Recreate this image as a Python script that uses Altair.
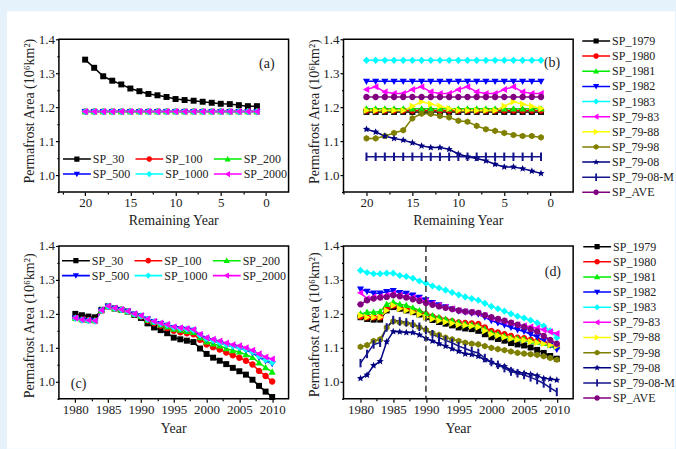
import math
import altair as alt
import pandas as pd

FONT = "Liberation Serif"
TXT = "#222222"
W, H = 230, 153

# ---------------- data ----------------
rem_x = [20, 19, 18, 17, 16, 15, 14, 13, 12, 11, 10, 9, 8, 7, 6, 5, 4, 3, 2, 1]
years = [1980, 1981, 1982, 1983, 1984, 1985, 1986, 1987, 1988, 1989, 1990,
         1991, 1992, 1993, 1994, 1995, 1996, 1997, 1998, 1999, 2000,
         2001, 2002, 2003, 2004, 2005, 2006, 2007, 2008, 2009, 2010]

sp_names = ["SP_30", "SP_100", "SP_200", "SP_500", "SP_1000", "SP_2000"]
sp_colors = ["#000000", "#ff0000", "#00ee00", "#0000ff", "#00ffff", "#ff00ff"]
sp_shapes = ["square", "circle", "tri_up", "tri_down", "diamond", "tri_left"]

yr_names = ["SP_1979", "SP_1980", "SP_1981", "SP_1982", "SP_1983", "SP_79-83",
            "SP_79-88", "SP_79-98", "SP_79-08", "SP_79-08-M", "SP_AVE"]
yr_colors = ["#000000", "#ff0000", "#00ee00", "#0000ff", "#00ffff", "#ff00ff",
             "#ffff00", "#808000", "#000080", "#14148c", "#800080"]
yr_shapes = ["square", "circle", "tri_up", "tri_down", "diamond", "tri_left",
             "tri_right", "hexagon", "star", "vbar", "circle"]

# panel (a)
a_sp30 = [1.340, 1.316, 1.291, 1.278, 1.267, 1.255, 1.247, 1.239, 1.235, 1.230,
          1.224, 1.221, 1.219, 1.216, 1.213, 1.210, 1.209, 1.206, 1.203, 1.203]
a_sp100 = [1.187, 1.187, 1.187, 1.187, 1.187, 1.187, 1.187, 1.187, 1.187, 1.187,
           1.187, 1.187, 1.187, 1.187, 1.187, 1.187, 1.187, 1.187, 1.187, 1.187]
a_sp200 = [1.187, 1.187, 1.187, 1.187, 1.187, 1.187, 1.187, 1.187, 1.187, 1.187,
           1.187, 1.187, 1.187, 1.187, 1.187, 1.187, 1.187, 1.187, 1.187, 1.187]
a_sp500 = [1.187, 1.187, 1.187, 1.187, 1.187, 1.187, 1.187, 1.187, 1.187, 1.187,
           1.187, 1.187, 1.187, 1.187, 1.187, 1.187, 1.187, 1.187, 1.187, 1.187]
a_sp1000 = [1.187, 1.187, 1.187, 1.187, 1.187, 1.187, 1.187, 1.187, 1.187, 1.187,
            1.187, 1.187, 1.187, 1.187, 1.187, 1.187, 1.187, 1.187, 1.187, 1.187]
a_sp2000 = [1.187, 1.187, 1.187, 1.187, 1.187, 1.187, 1.187, 1.187, 1.187, 1.187,
            1.187, 1.187, 1.187, 1.187, 1.187, 1.187, 1.187, 1.187, 1.187, 1.187]

# panel (b)
b_1979 = [1.186, 1.186, 1.186, 1.186, 1.186, 1.186, 1.186, 1.186, 1.186, 1.186,
          1.186, 1.186, 1.186, 1.186, 1.186, 1.186, 1.186, 1.186, 1.186, 1.186]
b_1980 = [1.190, 1.190, 1.190, 1.190, 1.190, 1.190, 1.190, 1.190, 1.190, 1.190,
          1.190, 1.190, 1.190, 1.190, 1.190, 1.190, 1.190, 1.190, 1.190, 1.190]
b_1981 = [1.195, 1.195, 1.195, 1.195, 1.195, 1.195, 1.195, 1.195, 1.195, 1.195,
          1.195, 1.195, 1.195, 1.195, 1.195, 1.195, 1.195, 1.195, 1.195, 1.195]
b_1982 = [1.276, 1.276, 1.276, 1.276, 1.276, 1.276, 1.276, 1.276, 1.276, 1.276,
          1.276, 1.276, 1.276, 1.276, 1.276, 1.276, 1.276, 1.276, 1.276, 1.276]
b_1983 = [1.338, 1.338, 1.338, 1.338, 1.338, 1.338, 1.338, 1.338, 1.338, 1.338,
          1.338, 1.338, 1.338, 1.338, 1.338, 1.338, 1.338, 1.338, 1.338, 1.338]
b_7983 = [1.252, 1.260, 1.245, 1.240, 1.240, 1.252, 1.260, 1.245, 1.240, 1.240,
          1.252, 1.260, 1.245, 1.240, 1.240, 1.252, 1.260, 1.245, 1.240, 1.240]
b_7988 = [1.190, 1.190, 1.190, 1.190, 1.190, 1.203, 1.216, 1.209, 1.203, 1.196,
          1.190, 1.190, 1.190, 1.190, 1.190, 1.203, 1.216, 1.209, 1.203, 1.196]
b_7998 = [1.108, 1.108, 1.115, 1.124, 1.132, 1.167, 1.181, 1.180, 1.174, 1.170,
          1.160, 1.157, 1.145, 1.135, 1.130, 1.124, 1.118, 1.115, 1.115, 1.111]
b_7908 = [1.135, 1.127, 1.115, 1.108, 1.103, 1.095, 1.086, 1.081, 1.081, 1.076,
          1.062, 1.054, 1.049, 1.042, 1.032, 1.024, 1.024, 1.019, 1.012, 1.005]
b_7908m = [1.054, 1.054, 1.054, 1.054, 1.054, 1.054, 1.054, 1.054, 1.054, 1.054,
           1.054, 1.054, 1.054, 1.054, 1.054, 1.054, 1.054, 1.054, 1.054, 1.054]
b_ave = [1.230, 1.230, 1.230, 1.230, 1.230, 1.230, 1.230, 1.230, 1.230, 1.230,
         1.230, 1.230, 1.230, 1.230, 1.230, 1.230, 1.230, 1.230, 1.230, 1.230]

# panel (c)
c_sp30 = [1.200, 1.196, 1.192, 1.190, 1.212, 1.222, 1.216, 1.212, 1.207, 1.197, 1.188,
          1.172, 1.160, 1.152, 1.143, 1.130, 1.125, 1.121, 1.117, 1.098, 1.082,
          1.071, 1.062, 1.052, 1.041, 1.031, 1.021, 1.006, 0.988, 0.971, 0.955]
c_sp100 = [1.188, 1.183, 1.181, 1.180, 1.210, 1.222, 1.216, 1.212, 1.207, 1.199, 1.192,
           1.180, 1.172, 1.165, 1.158, 1.150, 1.146, 1.143, 1.140, 1.124, 1.110,
           1.102, 1.095, 1.086, 1.078, 1.071, 1.062, 1.051, 1.032, 1.017, 1.001]
c_sp200 = [1.188, 1.183, 1.181, 1.180, 1.210, 1.222, 1.216, 1.212, 1.207, 1.199, 1.193,
           1.182, 1.175, 1.168, 1.162, 1.155, 1.152, 1.149, 1.146, 1.130, 1.118,
           1.112, 1.106, 1.098, 1.092, 1.088, 1.080, 1.072, 1.056, 1.042, 1.029]
c_sp500 = [1.187, 1.182, 1.180, 1.179, 1.210, 1.222, 1.216, 1.212, 1.207, 1.199, 1.194,
           1.184, 1.177, 1.171, 1.166, 1.159, 1.156, 1.154, 1.151, 1.136, 1.125,
           1.120, 1.114, 1.108, 1.103, 1.099, 1.093, 1.085, 1.072, 1.062, 1.053]
c_sp1000 = [1.187, 1.182, 1.180, 1.179, 1.210, 1.222, 1.216, 1.212, 1.207, 1.199, 1.194,
            1.184, 1.177, 1.171, 1.167, 1.160, 1.157, 1.155, 1.152, 1.137, 1.127,
            1.122, 1.116, 1.110, 1.105, 1.101, 1.095, 1.088, 1.075, 1.065, 1.057]
c_sp2000 = [1.188, 1.183, 1.181, 1.180, 1.211, 1.223, 1.217, 1.213, 1.208, 1.200, 1.195,
            1.185, 1.178, 1.173, 1.169, 1.162, 1.159, 1.157, 1.154, 1.140, 1.130,
            1.125, 1.120, 1.114, 1.109, 1.106, 1.100, 1.093, 1.082, 1.073, 1.067]

# panel (d)
d_1979 = [1.190, 1.185, 1.183, 1.183, 1.210, 1.220, 1.215, 1.210, 1.205, 1.198, 1.190,
          1.182, 1.176, 1.171, 1.166, 1.160, 1.157, 1.155, 1.150, 1.140, 1.131,
          1.126, 1.121, 1.114, 1.110, 1.107, 1.101, 1.094, 1.085, 1.076, 1.068]
d_1980 = [1.192, 1.190, 1.190, 1.190, 1.215, 1.225, 1.220, 1.215, 1.210, 1.205, 1.199,
          1.192, 1.187, 1.182, 1.178, 1.175, 1.173, 1.172, 1.170, 1.160, 1.150,
          1.145, 1.140, 1.135, 1.130, 1.128, 1.124, 1.120, 1.115, 1.110, 1.104]
d_1981 = [1.200, 1.205, 1.205, 1.207, 1.228, 1.235, 1.228, 1.225, 1.218, 1.210, 1.202,
          1.195, 1.190, 1.185, 1.180, 1.175, 1.170, 1.168, 1.165, 1.155, 1.145,
          1.140, 1.135, 1.130, 1.127, 1.125, 1.120, 1.117, 1.113, 1.108, 1.103]
d_1982 = [1.273, 1.266, 1.261, 1.261, 1.265, 1.268, 1.262, 1.260, 1.255, 1.248, 1.241,
          1.233, 1.226, 1.220, 1.214, 1.208, 1.205, 1.202, 1.199, 1.190, 1.180,
          1.173, 1.167, 1.160, 1.153, 1.148, 1.140, 1.132, 1.120, 1.108, 1.095]
d_1983 = [1.328, 1.322, 1.318, 1.318, 1.320, 1.320, 1.313, 1.310, 1.305, 1.297, 1.290,
          1.282, 1.276, 1.270, 1.263, 1.256, 1.250, 1.245, 1.240, 1.231, 1.222,
          1.215, 1.208, 1.200, 1.193, 1.188, 1.181, 1.174, 1.164, 1.150, 1.130]
d_7983 = [1.262, 1.245, 1.250, 1.250, 1.255, 1.260, 1.255, 1.252, 1.248, 1.243, 1.237,
          1.230, 1.225, 1.220, 1.215, 1.210, 1.207, 1.205, 1.202, 1.195, 1.188,
          1.183, 1.178, 1.173, 1.168, 1.165, 1.162, 1.158, 1.153, 1.147, 1.142]
d_7988 = [1.195, 1.190, 1.190, 1.190, 1.210, 1.225, 1.215, 1.210, 1.205, 1.198, 1.190,
          1.185, 1.180, 1.176, 1.172, 1.168, 1.166, 1.164, 1.161, 1.150, 1.140,
          1.136, 1.131, 1.127, 1.124, 1.122, 1.118, 1.115, 1.112, 1.108, 1.105]
d_7998 = [1.103, 1.108, 1.120, 1.125, 1.160, 1.178, 1.175, 1.172, 1.168, 1.160, 1.153,
          1.143, 1.138, 1.130, 1.125, 1.120, 1.115, 1.112, 1.110, 1.105, 1.100,
          1.096, 1.093, 1.089, 1.085, 1.083, 1.081, 1.079, 1.075, 1.070, 1.065]
d_7908 = [1.010, 1.020, 1.048, 1.060, 1.118, 1.148, 1.147, 1.145, 1.145, 1.138, 1.128,
          1.120, 1.112, 1.105, 1.097, 1.090, 1.082, 1.080, 1.075, 1.065, 1.058,
          1.050, 1.045, 1.035, 1.028, 1.025, 1.022, 1.018, 1.010, 1.008, 1.005]
d_7908m = [1.055, 1.082, 1.110, 1.115, 1.160, 1.182, 1.178, 1.175, 1.170, 1.162, 1.152,
           1.140, 1.130, 1.122, 1.115, 1.105, 1.098, 1.090, 1.085, 1.070, 1.058,
           1.050, 1.040, 1.030, 1.025, 1.020, 1.013, 1.005, 0.995, 0.982, 0.970]
d_ave = [1.228, 1.240, 1.245, 1.248, 1.250, 1.255, 1.252, 1.248, 1.243, 1.238, 1.232,
         1.227, 1.222, 1.218, 1.214, 1.210, 1.207, 1.205, 1.203, 1.196, 1.190,
         1.185, 1.180, 1.174, 1.168, 1.162, 1.155, 1.148, 1.135, 1.123, 1.112]

# annotations and reference line
ann_text = ["(a)", "(b)", "(c)", "(d)"]
ann_x = [-0.1, -0.2, 1980.5, 2009.4]
ann_y = [1.326, 1.329, 0.994, 1.324]
rule_year = [1990]

y_major = [1.0, 1.1, 1.2, 1.3, 1.4]
y_minor = [0.95, 1.05, 1.15, 1.25, 1.35]
rem_major = [0, 5, 10, 15, 20]
rem_minor = [2.5, 7.5, 12.5, 17.5, 22.5]
yr_major = [1980, 1985, 1990, 1995, 2000, 2005, 2010]
yr_minor = [1982.5, 1987.5, 1992.5, 1997.5, 2002.5, 2007.5]

Y_TITLE = "Permafrost Area (10\u2076km\u00b2)"

# ---------------- marker shapes (styling) ----------------
def _star():
    pts = []
    for i in range(10):
        ang = -math.pi / 2 + i * math.pi / 5
        rr = 1.1 if i % 2 == 0 else 0.5
        pts.append((rr * math.cos(ang), rr * math.sin(ang)))
    return pts

SHAPE_PTS = {
    "square": [(-0.88, -0.88), (0.88, -0.88), (0.88, 0.88), (-0.88, 0.88)],
    "tri_up": [(0, -1.05), (1.05, 0.8), (-1.05, 0.8)],
    "tri_down": [(0, 1.05), (-1.05, -0.8), (1.05, -0.8)],
    "tri_left": [(-1.05, 0), (0.8, -1.05), (0.8, 1.05)],
    "tri_right": [(1.05, 0), (-0.8, 1.05), (-0.8, -1.05)],
    "diamond": [(0, -1.05), (1.05, 0), (0, 1.05), (-1.05, 0)],
    "hexagon": [(0.98 * math.cos(math.pi / 6 + k * math.pi / 3),
                 0.98 * math.sin(math.pi / 6 + k * math.pi / 3)) for k in range(6)],
    "star": _star(),
    "vbar": [(-0.3, -1.25), (0.3, -1.25), (0.3, 1.25), (-0.3, 1.25)],
}


def _cw(pts):
    s = sum(pts[i][0] * pts[(i + 1) % len(pts)][1] - pts[(i + 1) % len(pts)][0] * pts[i][1]
            for i in range(len(pts)))
    return pts if s > 0 else pts[::-1]


def marker_path(kind, k):
    if kind == "circle":
        r = 0.95 * k
        return f"M{r:.4f},0A{r:.4f},{r:.4f} 0 1,1 {-r:.4f},0A{r:.4f},{r:.4f} 0 1,1 {r:.4f},0Z"
    pts = _cw(SHAPE_PTS[kind])
    return "M" + "L".join(f"{x * k:.4f},{y * k:.4f}" for x, y in pts) + "Z"


LINE_SEG = "M-1,-0.054L1,-0.054L1,0.054L-1,0.054Z"


def legend_path(kind):
    return LINE_SEG + marker_path(kind, 0.21)


def long_df(xs, names, series):
    rows = []
    for name, vals in zip(names, series):
        for x, y in zip(xs, vals):
            rows.append({"x": x, "y": y, "s": name})
    return pd.DataFrame(rows)


df_a = long_df(rem_x, sp_names, [a_sp30, a_sp100, a_sp200, a_sp500, a_sp1000, a_sp2000])
df_b = long_df(rem_x, yr_names, [b_1979, b_1980, b_1981, b_1982, b_1983, b_7983,
                                 b_7988, b_7998, b_7908, b_7908m, b_ave])
df_c = long_df(years, sp_names, [c_sp30, c_sp100, c_sp200, c_sp500, c_sp1000, c_sp2000])
df_d = long_df(years, yr_names, [d_1979, d_1980, d_1981, d_1982, d_1983, d_7983,
                                 d_7988, d_7998, d_7908, d_7908m, d_ave])


def title_text(txt, x, y, angle=0):
    kw = dict(font=FONT, fontSize=14, fontWeight="normal", color=TXT,
              align="center", baseline="middle")
    if angle:
        kw["angle"] = angle
    return alt.Chart(alt.Data(values=[{"t": txt}])).mark_text(**kw).encode(
        x=alt.value(x), y=alt.value(y), text="t:N")


def make_panel(df, names, colors, shapes, xdom, xrev, xmaj, xmin, xtitle, xfmt,
               leg, ann_i, xt_y, yt_y, pre=None, post=None):
    X = alt.X("x:Q",
              scale=alt.Scale(domain=xdom, reverse=xrev, nice=False, zero=False),
              axis=alt.Axis(title=None, values=xmaj + xmin, format=xfmt,
                            labelExpr="(datum.value % 5 == 0) ? datum.label : ''",
                            tickSize={"condition": {"test": "datum.value % 5 != 0", "value": 2},
                                      "value": 3.5},
                            zindex=1))
    Y = alt.Y("y:Q",
              scale=alt.Scale(domain=[0.95, 1.4], nice=False, zero=False),
              axis=alt.Axis(title=None, values=y_major + y_minor, format=".1f",
                            labelExpr="(round(datum.value*100) % 10 == 0) ? datum.label : ''",
                            tickSize={"condition": {"test": "round(datum.value*100) % 10 != 0",
                                                    "value": 2},
                                      "value": 3.5},
                            zindex=1))
    base = alt.Chart(df)
    lines = base.mark_line(strokeWidth=1.5).encode(
        x=X, y=Y,
        stroke=alt.Stroke("s:N", scale=alt.Scale(domain=names, range=colors), legend=None),
    )
    pts = base.mark_point(filled=True, opacity=1, size=46).encode(
        x=X, y=Y,
        fill=alt.Fill("s:N", scale=alt.Scale(domain=names, range=colors), legend=None),
        shape=alt.Shape("s:N", scale=alt.Scale(domain=names,
                                                range=[marker_path(k, 1.0) for k in shapes]),
                        legend=None),
    )
    lg = alt.Legend(title=None, orient="none", legendX=leg["x"], legendY=leg["y"],
                    direction=leg["dir"],
                    columns=leg["cols"], columnPadding=leg["cp"], rowPadding=leg["rp"],
                    padding=0, symbolSize=784, symbolStrokeWidth=0, symbolOpacity=1,
                    clipHeight=12,
                    labelOffset=2, labelFont=FONT, labelFontSize=12, labelColor=TXT)
    legend_layer = base.transform_filter("false").mark_point(filled=True, opacity=1).encode(
        x=X, y=Y,
        fill=alt.Fill("s:N", scale=alt.Scale(domain=names, range=colors), legend=lg),
        shape=alt.Shape("s:N", scale=alt.Scale(domain=names,
                                                range=[legend_path(k) for k in shapes]),
                        legend=lg),
    )
    ann_df = pd.DataFrame({"x": [ann_x[ann_i]], "y": [ann_y[ann_i]], "t": [ann_text[ann_i]]})
    ann = alt.Chart(ann_df).mark_text(font=FONT, fontSize=14, color=TXT).encode(
        x=X, y=Y, text="t:N")
    frame = alt.Chart(alt.Data(values=[{"k": 0}])).mark_rect(
        fill=None, fillOpacity=0, stroke="black", strokeWidth=1.5).encode(
        x=alt.value(0), x2=alt.value(W), y=alt.value(0), y2=alt.value(H))
    xt = title_text(xtitle, W / 2, xt_y)
    yt = title_text(Y_TITLE, -29, yt_y, angle=270)
    layers = []
    if pre is not None:
        layers.append(pre)
    layers += [lines, pts, legend_layer, ann, xt, yt]
    if post is not None:
        layers.append(post(X))
    layers.append(frame)
    return alt.layer(*layers).resolve_scale(
        fill="independent", shape="independent").properties(width=W, height=H)


white = alt.Chart(alt.Data(values=[{"k": 0}])).mark_rect(color="white").encode(
    x=alt.value(-52), x2=alt.value(617), y=alt.value(-28), y2=alt.value(410))


def rule_layer(X):
    return alt.Chart(pd.DataFrame({"x": rule_year})).mark_rule(
        strokeDash=[6, 4], strokeWidth=1.5, color="#333333").encode(x=X)


pa = make_panel(df_a, sp_names, sp_colors, sp_shapes, [-2.5, 22.9], True,
                rem_major, rem_minor, "Remaining Year", "d",
                dict(x=4, y=114, cols=3, cp=4.5, rp=3, dir="horizontal"), 0,
                H + 29, 72, pre=white)
pb = make_panel(df_b, yr_names, yr_colors, yr_shapes, [-2.5, 22.5], True,
                rem_major, rem_minor, "Remaining Year", "d",
                dict(x=239, y=-4.3, cols=1, cp=0, rp=3.16, dir="vertical"), 1,
                H + 29, 72.5)
pc = make_panel(df_c, sp_names, sp_colors, sp_shapes, [1977.5, 2012.5], False,
                yr_major, yr_minor, "Year", "d",
                dict(x=3, y=8.7, cols=3, cp=4.5, rp=3, dir="horizontal"), 2,
                H + 30, 80)
pd_ = make_panel(df_d, yr_names, yr_colors, yr_shapes, [1977.4, 2012.5], False,
                 yr_major, yr_minor, "Year", "d",
                 dict(x=240, y=-5.3, cols=1, cp=0, rp=3.16, dir="vertical"), 3,
                 H + 30, 79, post=rule_layer)

chart = alt.concat(pa, pb, pc, pd_, columns=2, spacing={"row": 54, "column": 55},
                   bounds="flush").resolve_scale(
    x="independent", y="independent", fill="independent", shape="independent",
    stroke="independent"
).properties(
    background="#e6f2fb", padding={"left": 7, "top": 11, "right": 0, "bottom": 0}
).configure_view(stroke=None).configure_axis(
    labelFont=FONT, labelFontSize=13, labelColor=TXT,
    tickColor="black", tickWidth=1.2, domain=False, grid=False, labelPadding=1,
)

chart.save("out.html", embed_options={"renderer": "svg", "actions": False})
